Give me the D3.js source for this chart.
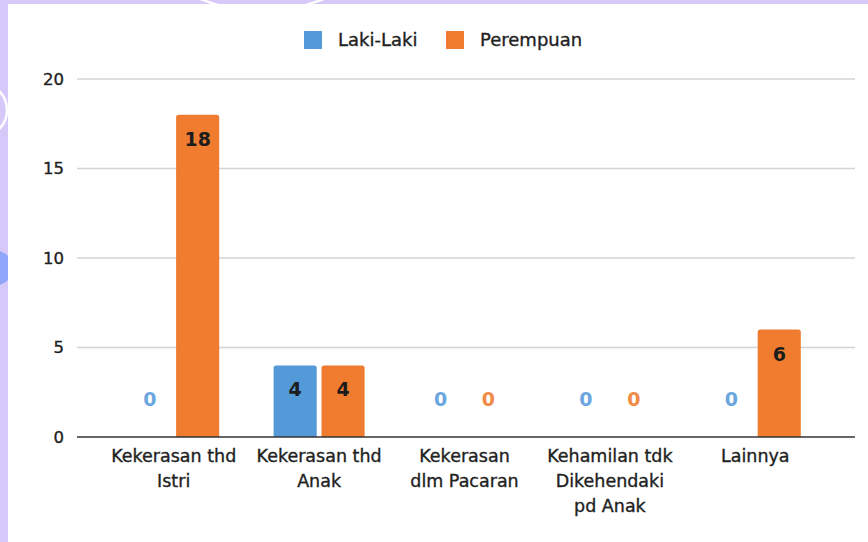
<!DOCTYPE html>
<html>
<head>
<meta charset="utf-8">
<script src="https://cdn.jsdelivr.net/npm/d3@7"></script>
<style>
  html, body { margin: 0; padding: 0; background: #d6c8f8; }
  svg { display: block; font-family: "DejaVu Sans", Verdana, sans-serif; }
  .heavy { stroke: #222; stroke-width: 0.35px; }
</style>
</head>
<body>
<div id="chartId"></div>
<script>
var categories = ["Kekerasan thd Istri", "Kekerasan thd Anak", "Kekerasan dlm Pacaran",
  "Kehamilan tdk Dikehendaki pd Anak", "Lainnya"];
var categoryLines = [
  ["Kekerasan thd", "Istri"],
  ["Kekerasan thd", "Anak"],
  ["Kekerasan", "dlm Pacaran"],
  ["Kehamilan tdk", "Dikehendaki", "pd Anak"],
  ["Lainnya"]
];
var seriesNames = ["Laki-Laki", "Perempuan"];
var lakiLaki = [0, 4, 0, 0, 0];
var perempuan = [18, 4, 0, 0, 6];
var yTicks = [0, 5, 10, 15, 20];

var colors = ["#5499d8", "#f07c2f"];
var zeroColors = ["#6ba7de", "#f08a45"];

var width = 868, height = 542;

var svg = d3.select("#chartId")
  .append("svg")
  .attr("width", width)
  .attr("height", height);

// background decorations
svg.append("rect").attr("width", width).attr("height", height).attr("fill", "#d6c8f8");
svg.append("circle").attr("cx", 262).attr("cy", -154).attr("r", 165)
  .attr("fill", "none").attr("stroke", "#fff").attr("stroke-width", 2.5);
svg.append("circle").attr("cx", -20).attr("cy", 110).attr("r", 27)
  .attr("fill", "none").attr("stroke", "#fff").attr("stroke-width", 2.5);
svg.append("circle").attr("cx", -4).attr("cy", 268).attr("r", 17)
  .attr("fill", "#8fa6fb");
svg.append("rect").attr("x", 8).attr("y", 4)
  .attr("width", width - 8).attr("height", height - 4).attr("fill", "#fff");

var x0 = d3.scaleBand()
  .domain(categories)
  .range([101, 828]);

var x1 = d3.scaleBand()
  .domain(seriesNames)
  .range([-45.5, 45.5])
  .paddingInner(0.1);

var y = d3.scaleLinear()
  .domain([0, 20])
  .range([437, 79]);

// gridlines
svg.append("g")
  .selectAll("line")
  .data(yTicks.filter(function (d) { return d > 0; }))
  .enter().append("line")
  .attr("x1", 77).attr("x2", 855)
  .attr("y1", function (d) { return y(d); })
  .attr("y2", function (d) { return y(d); })
  .attr("stroke", "#d4d4d4")
  .attr("stroke-width", 1.5);

// y labels
svg.append("g")
  .selectAll("text")
  .data(yTicks)
  .enter().append("text")
  .attr("class", "heavy")
  .attr("x", 64)
  .attr("y", function (d) { return y(d); })
  .attr("dy", "0.36em")
  .attr("text-anchor", "end")
  .attr("font-size", 16.5)
  .attr("fill", "#222")
  .text(function (d) { return d; });

var rows = [];
categories.forEach(function (c, i) {
  rows.push({ cat: c, s: 0, value: lakiLaki[i] });
  rows.push({ cat: c, s: 1, value: perempuan[i] });
});

function barX(d) {
  return x0(d.cat) + x0.bandwidth() / 2 + x1(seriesNames[d.s]);
}

// bars with slightly rounded tops
svg.append("g")
  .selectAll("path")
  .data(rows.filter(function (d) { return d.value > 0; }))
  .enter().append("path")
  .attr("fill", function (d) { return colors[d.s]; })
  .attr("d", function (d) {
    var bx = barX(d), bw = x1.bandwidth(), top = y(d.value), base = y(0), r = 2.5;
    return "M" + bx + "," + base +
      "V" + (top + r) +
      "Q" + bx + "," + top + " " + (bx + r) + "," + top +
      "H" + (bx + bw - r) +
      "Q" + (bx + bw) + "," + top + " " + (bx + bw) + "," + (top + r) +
      "V" + base + "Z";
  });

// value labels
svg.append("g")
  .selectAll("text")
  .data(rows)
  .enter().append("text")
  .attr("x", function (d) { return barX(d) + x1.bandwidth() / 2; })
  .attr("y", function (d) {
    return d.value > 0 ? y(d.value) + 31 : y(0) - 31;
  })
  .attr("text-anchor", "middle")
  .attr("font-size", 19)
  .attr("font-weight", "bold")
  .attr("fill", function (d) { return d.value > 0 ? "#1c1c1c" : zeroColors[d.s]; })
  .text(function (d) { return d.value; });

// zero axis line
svg.append("line")
  .attr("x1", 77).attr("x2", 855)
  .attr("y1", y(0)).attr("y2", y(0))
  .attr("stroke", "#333")
  .attr("stroke-width", 1.5);

// category labels
var catG = svg.append("g")
  .selectAll("text")
  .data(categories)
  .enter().append("text")
  .attr("class", "heavy")
  .attr("text-anchor", "middle")
  .attr("font-size", 17.5)
  .attr("fill", "#222");

catG.selectAll("tspan")
  .data(function (d, i) { return categoryLines[i].map(function (l) { return { line: l, cat: d }; }); })
  .enter().append("tspan")
  .attr("x", function (d) { return x0(d.cat) + x0.bandwidth() / 2; })
  .attr("y", function (d, j) { return 462 + j * 25; })
  .text(function (d) { return d.line; });

// legend
var legendX = [304, 446];
var legend = svg.append("g")
  .selectAll("g")
  .data(seriesNames)
  .enter().append("g")
  .attr("transform", function (d, i) { return "translate(" + legendX[i] + ",31)"; });

legend.append("rect")
  .attr("width", 18).attr("height", 18)
  .attr("fill", function (d, i) { return colors[i]; });

legend.append("text")
  .attr("class", "heavy")
  .attr("x", 34)
  .attr("y", 9)
  .attr("dy", "0.36em")
  .attr("font-size", 18)
  .attr("fill", "#222")
  .text(function (d) { return d; });
</script>
</body>
</html>
